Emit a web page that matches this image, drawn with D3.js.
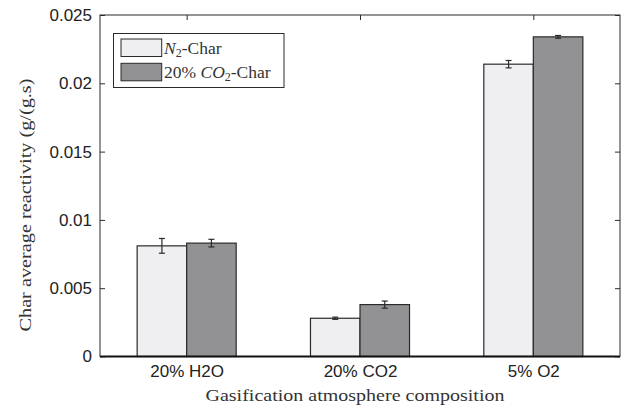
<!DOCTYPE html>
<html><head><meta charset="utf-8">
<script src="https://cdn.jsdelivr.net/npm/d3@7"></script>
<style>
html,body{margin:0;padding:0;background:#fff;}
svg{display:block;}
</style>
</head><body>
<svg id="chart" width="623" height="408"></svg>
<script>
const categories = ["20% H2O", "20% CO2", "5% O2"];
const seriesNames = ["N2-Char", "20% CO2-Char"];
const n2Char = [0.0081, 0.0028, 0.0214];
const co2Char = [0.0083, 0.0038, 0.0234];
const n2Err = [0.00054, 0.00008, 0.00027];
const co2Err = [0.00028, 0.00026, 0.0001];
const yTicks = [0, 0.005, 0.01, 0.015, 0.02, 0.025];
const yTickLabels = ["0", "0.005", "0.01", "0.015", "0.02", "0.025"];
const colors = ["#efeff1", "#929295"];

const SANS = "'Liberation Sans', Arial, Helvetica, sans-serif";
const SERIF = "'Liberation Serif', 'Times New Roman', serif";
const svg = d3.select("#chart");
const L = 100, R = 620, T = 15, B = 356.5;
const x = d3.scaleLinear().domain([0.5, 3.5]).range([L, R]);
const y = d3.scaleLinear().domain([0, 0.025]).range([B, T]);
const barW = 0.2857;
const offsets = [-barW/2, barW/2];
const series = [n2Char, co2Char];
const errs = [n2Err, co2Err];
const ink = "#2a2a2a";

// bars
series.forEach((vals, s) => {
  svg.append("g").selectAll("rect").data(vals).join("rect")
    .attr("x", (d, i) => x(i + 1 + offsets[s] - barW/2))
    .attr("width", x(barW) - x(0))
    .attr("y", d => y(d))
    .attr("height", d => y(0) - y(d))
    .attr("fill", colors[s])
    .attr("stroke", ink).attr("stroke-width", 1.2);
});
// error bars
series.forEach((vals, s) => {
  const g = svg.append("g").attr("stroke", ink).attr("stroke-width", 1.2);
  vals.forEach((v, i) => {
    const cx = x(i + 1 + offsets[s]);
    const e = errs[s][i];
    g.append("line").attr("x1", cx).attr("x2", cx).attr("y1", y(v - e)).attr("y2", y(v + e));
    g.append("line").attr("x1", cx - 3).attr("x2", cx + 3).attr("y1", y(v - e)).attr("y2", y(v - e));
    g.append("line").attr("x1", cx - 3).attr("x2", cx + 3).attr("y1", y(v + e)).attr("y2", y(v + e));
  });
});

// axes box
svg.append("rect").attr("x", L).attr("y", T).attr("width", R - L).attr("height", B - T)
  .attr("fill", "none").attr("stroke", ink).attr("stroke-width", 1);
svg.append("line").attr("x1", L).attr("x2", R).attr("y1", B).attr("y2", B)
  .attr("stroke", "#111").attr("stroke-width", 2);

// y axis (ticks inward)
const yAxis = d3.axisLeft(y).tickValues(yTicks).tickSize(-5).tickPadding(10)
  .tickFormat((d, i) => yTickLabels[i]);
const gy = svg.append("g").attr("transform", `translate(${L},0)`).call(yAxis)
  .attr("font-family", SANS).attr("font-size", 17);
gy.select(".domain").remove();
gy.selectAll("line").attr("stroke", ink);
gy.selectAll("text").attr("fill", "#222").attr("x", -8);

const gyr = svg.append("g").attr("transform", `translate(${R},0)`)
  .call(d3.axisRight(y).tickValues(yTicks).tickSize(-5).tickFormat(""));
gyr.select(".domain").remove();
gyr.selectAll("line").attr("stroke", ink);

// x axis
const xAxis = d3.axisBottom(x).tickValues([1, 2, 3]).tickSize(0).tickPadding(0)
  .tickFormat((d, i) => categories[i]);
const gx = svg.append("g").attr("transform", `translate(0,${B})`).call(xAxis)
  .attr("font-family", SANS).attr("font-size", 17);
gx.select(".domain").remove();
gx.selectAll("text").attr("fill", "#222").attr("y", 20).attr("dy", null);

const gxt = svg.append("g").attr("transform", `translate(0,${T})`)
  .call(d3.axisTop(x).tickValues([1, 2, 3]).tickSize(-5).tickFormat(""));
gxt.select(".domain").remove();
gxt.selectAll("line").attr("stroke", ink);

// axis titles
svg.append("text").attr("font-family", SERIF).attr("fill", "#333").attr("x", 355).attr("y", 401)
  .attr("text-anchor", "middle").attr("font-size", 17)
  .attr("textLength", 299).attr("lengthAdjust", "spacingAndGlyphs")
  .text("Gasification atmosphere composition");
svg.append("text").attr("font-family", SERIF).attr("fill", "#333")
  .attr("transform", "translate(31,205) rotate(-90)")
  .attr("text-anchor", "middle").attr("font-size", 17)
  .attr("textLength", 253).attr("lengthAdjust", "spacingAndGlyphs")
  .text("Char average reactivity (g/(g.s)");

// legend
const lg = svg.append("g").attr("font-family", SERIF);
lg.append("rect").attr("x", 113.5).attr("y", 33.5).attr("width", 170.5).attr("height", 54)
  .attr("fill", "#fff").attr("stroke", ink).attr("stroke-width", 1);
const rowsY = [39, 63.3];
seriesNames.forEach((nm, s) => {
  lg.append("rect").attr("x", 121).attr("y", rowsY[s]).attr("width", 40.7).attr("height", 17.5)
    .attr("fill", colors[s]).attr("stroke", ink).attr("stroke-width", 1);
});
const t1 = lg.append("text").attr("fill", "#333").attr("x", 164).attr("y", 53.5).attr("font-size", 17.5);
t1.append("tspan").attr("font-style", "italic").text("N");
t1.append("tspan").attr("font-size", 12).attr("dy", 3).text("2");
t1.append("tspan").attr("dy", -3).text("-Char");
const t2 = lg.append("text").attr("fill", "#333").attr("x", 164).attr("y", 77.5).attr("font-size", 17.5);
t2.append("tspan").text("20% ");
t2.append("tspan").attr("font-style", "italic").text("CO");
t2.append("tspan").attr("font-size", 12).attr("dy", 3).text("2");
t2.append("tspan").attr("dy", -3).text("-Char");
</script>
</body></html>
